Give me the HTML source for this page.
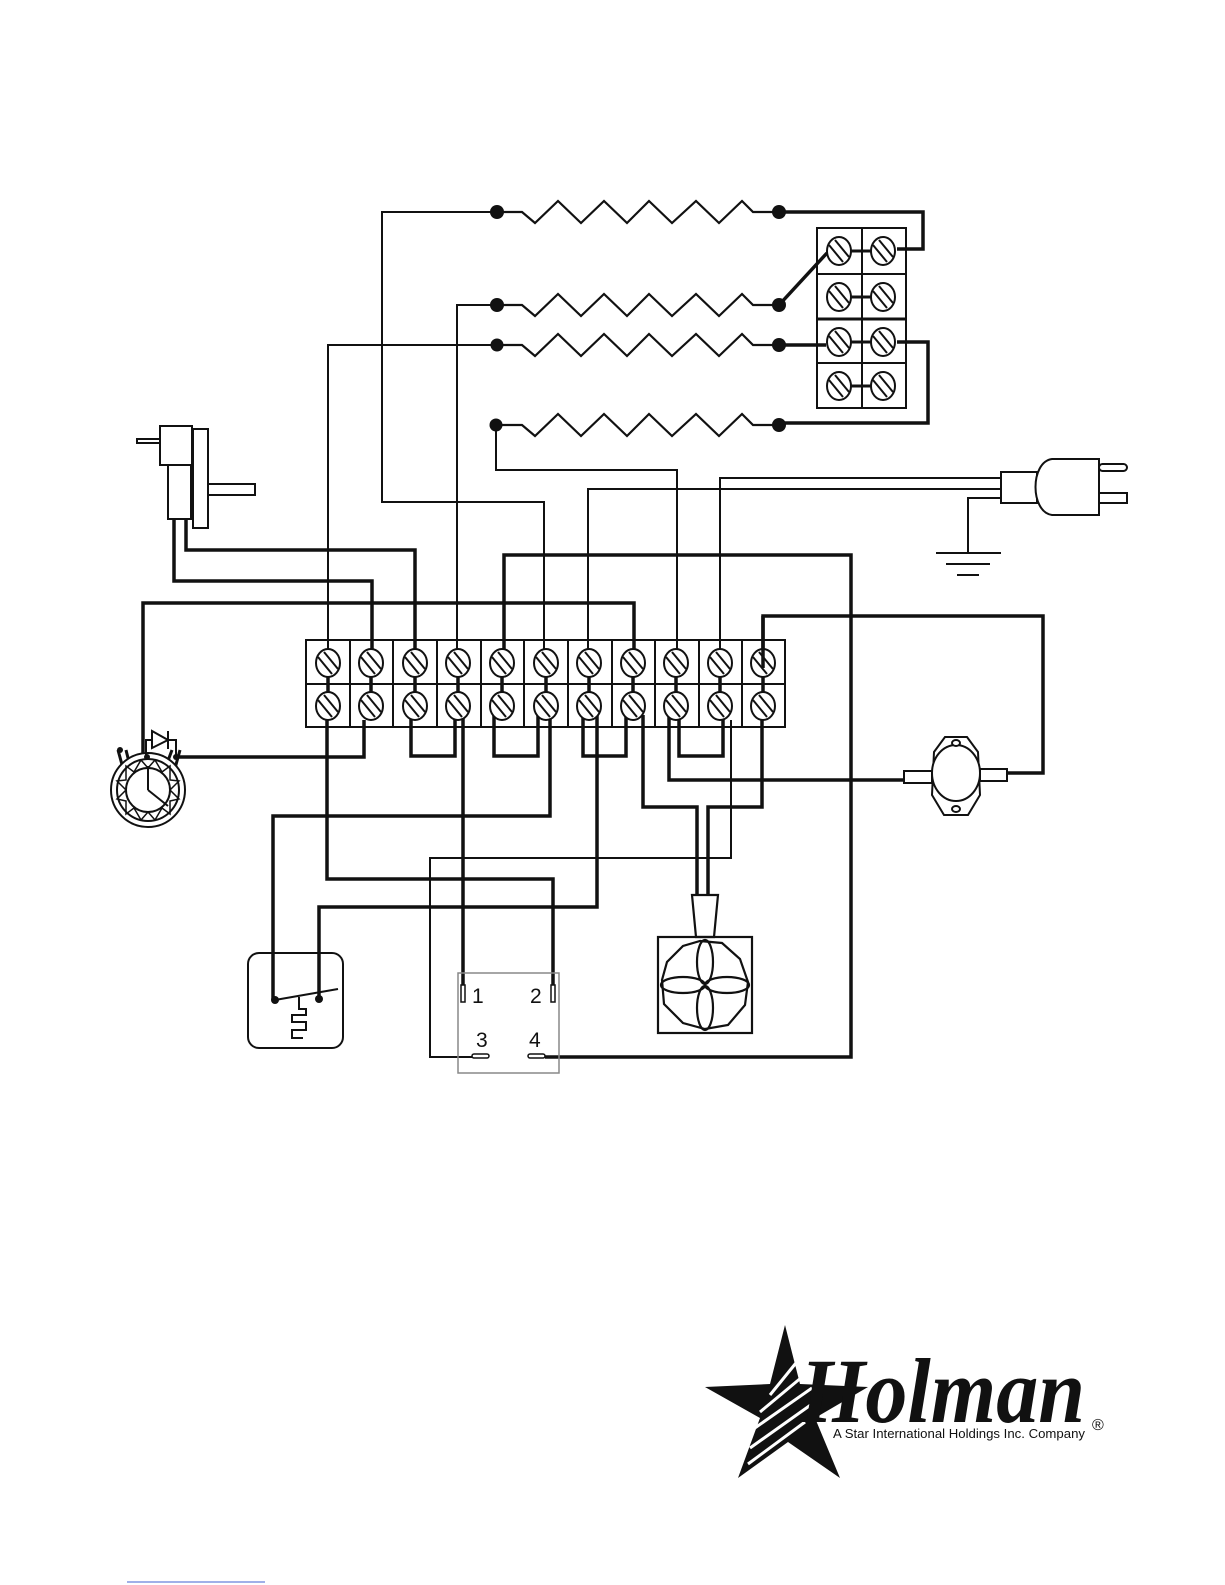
<!DOCTYPE html>
<html><head><meta charset="utf-8"><style>
html,body{margin:0;padding:0;background:#fff}
svg{display:block}
</style></head><body>
<svg width="1225" height="1585" viewBox="0 0 1225 1585" xmlns="http://www.w3.org/2000/svg">
<defs>
<g id="s"><ellipse rx="12" ry="14" fill="#fff" stroke="#111" stroke-width="2"/><line x1="-10" y1="-6" x2="4" y2="11" stroke="#111" stroke-width="2"/><line x1="-4" y1="-11" x2="10" y2="6" stroke="#111" stroke-width="2"/></g>
</defs>
<g fill="none" stroke="#111" stroke-linejoin="miter">
<g stroke-width="2.2">
<path d="M497,212 H522 L535,223 L558,201 L581,223 L604,201 L627,223 L649,201 L672,223 L696,201 L719,223 L742,201 L753,212 H779"/>
<path d="M497,305 H522 L535,316 L558,294 L581,316 L604,294 L627,316 L649,294 L672,316 L696,294 L719,316 L742,294 L753,305 H779"/>
<path d="M497,345 H522 L535,356 L558,334 L581,356 L604,334 L627,356 L649,334 L672,356 L696,334 L719,356 L742,334 L753,345 H779"/>
<path d="M497,425 H522 L535,436 L558,414 L581,436 L604,414 L627,436 L649,414 L672,436 L696,414 L719,436 L742,414 L753,425 H779"/>
</g>
<g stroke-width="2">
<path d="M497,212 H382 V502 H544 V650"/>
<path d="M497,305 H457 V650"/>
<path d="M497,345 H328 V650"/>
<path d="M496,425 V470 H677 V650"/>
<path d="M1001,478 H720 V650"/>
<path d="M1001,489 H588 V650"/>
<path d="M1001,498 H968 V553"/>
<path d="M936,553 H1001 M946,564 H990 M957,575 H979"/>
<path d="M731,720 V858 H430 V1057 H472"/>
</g>
<g stroke-width="3.5">
<path d="M779,212 H923 V249 H897"/>
<path d="M779,305 L827,253"/>
<path d="M779,345 H826"/>
<path d="M897,342 H928 V423 H779"/>
<path d="M186,519 V550 H415 V650"/>
<path d="M174,519 V581 H372 V650"/>
<path d="M634,650 V603 H143 V755"/>
<path d="M504,650 V555 H851 V1057 H545"/>
<path d="M763,663 V616 H1043 V773 H1007"/>
<path d="M176,757 H364 V720"/>
<path d="M411,715 V756 H455 V715"/>
<path d="M494,715 V756 H538 V715"/>
<path d="M583,715 V756 H626 V715"/>
<path d="M679,715 V756 H723 V715"/>
<path d="M327,715 V879 H553 V1000"/>
<path d="M463,715 V1000"/>
<path d="M550,715 V816 H273 V1000"/>
<path d="M597,715 V907 H319 V999"/>
<path d="M643,715 V807 H697 V895"/>
<path d="M762,715 V807 H708 V895"/>
<path d="M669,715 V780 H904"/>
</g>
</g>
<g fill="#111">
<circle cx="497" cy="212" r="7"/><circle cx="497" cy="305" r="7"/><circle cx="497" cy="345" r="6.5"/><circle cx="496" cy="425" r="6.5"/>
<circle cx="779" cy="212" r="7"/><circle cx="779" cy="305" r="7"/><circle cx="779" cy="345" r="7"/><circle cx="779" cy="425" r="7"/>
</g>
<g fill="none" stroke="#111" stroke-width="2">
<rect x="817" y="228" width="89" height="180"/>
<line x1="862" y1="228" x2="862" y2="408"/>
<line x1="817" y1="274" x2="906" y2="274"/>
<line x1="817" y1="319" x2="906" y2="319" stroke-width="3"/>
<line x1="817" y1="363" x2="906" y2="363"/>
<g stroke-width="3"><line x1="839" y1="251" x2="883" y2="251"/><line x1="839" y1="297" x2="883" y2="297"/><line x1="839" y1="342" x2="883" y2="342"/><line x1="839" y1="386" x2="883" y2="386"/></g>
</g>
<use href="#s" x="839" y="251"/><use href="#s" x="883" y="251"/>
<use href="#s" x="839" y="297"/><use href="#s" x="883" y="297"/>
<use href="#s" x="839" y="342"/><use href="#s" x="883" y="342"/>
<use href="#s" x="839" y="386"/><use href="#s" x="883" y="386"/>
<g fill="none" stroke="#111" stroke-width="2">
<rect x="306" y="640" width="479" height="87"/>
<line x1="306" y1="684" x2="785" y2="684"/>
<path d="M350,640V727 M393,640V727 M437,640V727 M481,640V727 M524,640V727 M568,640V727 M612,640V727 M655,640V727 M699,640V727 M742,640V727"/>
<g stroke-width="3.5"><path d="M328,663V706 M371,663V706 M415,663V706 M458,663V706 M502,663V706 M546,663V706 M589,663V706 M633,663V706 M676,663V706 M720,663V706 M763,663V706"/></g>
</g>
<g>
<use href="#s" x="328" y="663"/><use href="#s" x="371" y="663"/><use href="#s" x="415" y="663"/><use href="#s" x="458" y="663"/><use href="#s" x="502" y="663"/><use href="#s" x="546" y="663"/><use href="#s" x="589" y="663"/><use href="#s" x="633" y="663"/><use href="#s" x="676" y="663"/><use href="#s" x="720" y="663"/><use href="#s" x="763" y="663"/>
<use href="#s" x="328" y="706"/><use href="#s" x="371" y="706"/><use href="#s" x="415" y="706"/><use href="#s" x="458" y="706"/><use href="#s" x="502" y="706"/><use href="#s" x="546" y="706"/><use href="#s" x="589" y="706"/><use href="#s" x="633" y="706"/><use href="#s" x="676" y="706"/><use href="#s" x="720" y="706"/><use href="#s" x="763" y="706"/>
</g>
<line x1="763" y1="616" x2="763" y2="668" stroke="#111" stroke-width="3.5"/>
<g fill="#fff" stroke="#111" stroke-width="2">
<rect x="137" y="439" width="23" height="4"/>
<rect x="208" y="484" width="47" height="11"/>
<rect x="193" y="429" width="15" height="99"/>
<rect x="168" y="465" width="23" height="54"/>
<rect x="160" y="426" width="32" height="39"/>
</g>
<!-- timer -->
<g fill="none" stroke="#111" stroke-width="2">
<path d="M118,750 L124,772 M126,750 L130,766 M172,750 L166,766 M180,750 L174,772" stroke-width="3"/>
<circle cx="148" cy="790" r="37" fill="#fff"/>
<circle cx="148" cy="790" r="31"/>
<circle cx="148" cy="790" r="22"/>
<path d="M148,790 V766 M148,790 L168,806"/>
<path d="M148,768 L155,760 L162,772 L170,766 L170,780 L179,781 L170,790 L179,799 L170,801 L170,814 L162,808 L155,820 L148,812 L141,820 L134,808 L126,814 L126,801 L117,799 L126,790 L117,781 L126,780 L126,766 L134,772 L141,760 Z" stroke-width="1.5"/>
<path d="M146,760 V740 H152 M168,740 H176 V757"/>
<path d="M152,731 V748 L168,740 Z M168,731 V749"/>
</g>
<g fill="#111"><circle cx="120" cy="750" r="3"/><circle cx="147" cy="757" r="3"/><circle cx="176" cy="757" r="3"/></g>
<g fill="#fff" stroke="#111" stroke-width="2">
<rect x="1099" y="464" width="28" height="7" rx="3.5"/>
<rect x="1099" y="493" width="28" height="10"/>
<rect x="1001" y="472" width="36" height="31"/>
<path d="M1099,459 V515 H1052 C1030,512 1030,462 1052,459 Z"/>
</g>
<g fill="#fff" stroke="#111" stroke-width="2">
<path d="M945,737 L967,737 L978,752 L980,795 L968,815 L944,815 L932,795 L934,752 Z"/>
<ellipse cx="956" cy="773" rx="24" ry="28"/>
<ellipse cx="956" cy="743" rx="4" ry="3"/><ellipse cx="956" cy="809" rx="4" ry="3"/>
<rect x="904" y="771" width="28" height="12"/>
<rect x="980" y="769" width="27" height="12"/>
</g>
<g fill="none" stroke="#111" stroke-width="2.2">
<polygon points="692,895 718,895 714,937 696,937" fill="#fff"/>
<rect x="658" y="937" width="94" height="96"/>
<polygon points="700,941 722,943 740,959 748,982 745,1005 728,1025 705,1029 683,1023 664,1004 662,980 667,962 683,946"/>
<ellipse cx="705" cy="962" rx="8" ry="22"/><ellipse cx="705" cy="1008" rx="8" ry="22"/>
<ellipse cx="683" cy="985" rx="22" ry="8"/><ellipse cx="727" cy="985" rx="22" ry="8"/>
</g>
<g fill="none" stroke="#111" stroke-width="2">
<rect x="248" y="953" width="95" height="95" rx="11"/>
<path d="M275,1000 L338,989"/>
<path d="M299,997 V1009 H306 V1015 H292 V1022 H306 V1030 H292 V1038 H303"/>
</g>
<g fill="#111"><circle cx="275" cy="1000" r="4"/><circle cx="319" cy="999" r="4"/></g>
<g fill="none" stroke="#888" stroke-width="1.5"><rect x="458" y="973" width="101" height="100"/></g>
<g fill="#fff" stroke="#111" stroke-width="1.5">
<rect x="461" y="985" width="4" height="17"/><rect x="551" y="985" width="4" height="17"/>
<rect x="472" y="1054" width="17" height="4" rx="2"/><rect x="528" y="1054" width="17" height="4" rx="2"/>
</g>
<g font-family="Liberation Sans, sans-serif" font-size="21" fill="#111">
<text x="472" y="1003">1</text><text x="530" y="1003">2</text>
<text x="476" y="1047">3</text><text x="529" y="1047">4</text>
</g>
<polygon points="785,1325 800,1384 868,1387 815,1418 840,1478 788,1442 738,1478 760,1418 705,1387 770,1384" fill="#111"/>
<g stroke="#fff" stroke-width="3">
<line x1="770" y1="1395" x2="800" y2="1358"/><line x1="760" y1="1412" x2="808" y2="1372"/><line x1="752" y1="1430" x2="812" y2="1388"/><line x1="750" y1="1448" x2="812" y2="1404"/><line x1="748" y1="1464" x2="805" y2="1422"/>
</g>
<text x="800" y="1422" font-family="Liberation Serif, serif" font-style="italic" font-weight="bold" font-size="92" textLength="285" lengthAdjust="spacingAndGlyphs" fill="#111">Holman</text>
<text x="833" y="1438" font-family="Liberation Sans, sans-serif" font-size="13" textLength="252" lengthAdjust="spacingAndGlyphs" fill="#111">A Star International Holdings Inc. Company</text>
<text x="1092" y="1430" font-family="Liberation Sans, sans-serif" font-size="16" fill="#111">®</text>
<line x1="127" y1="1582" x2="265" y2="1582" stroke="#4060d0" stroke-width="1"/>
</svg>
</body></html>
